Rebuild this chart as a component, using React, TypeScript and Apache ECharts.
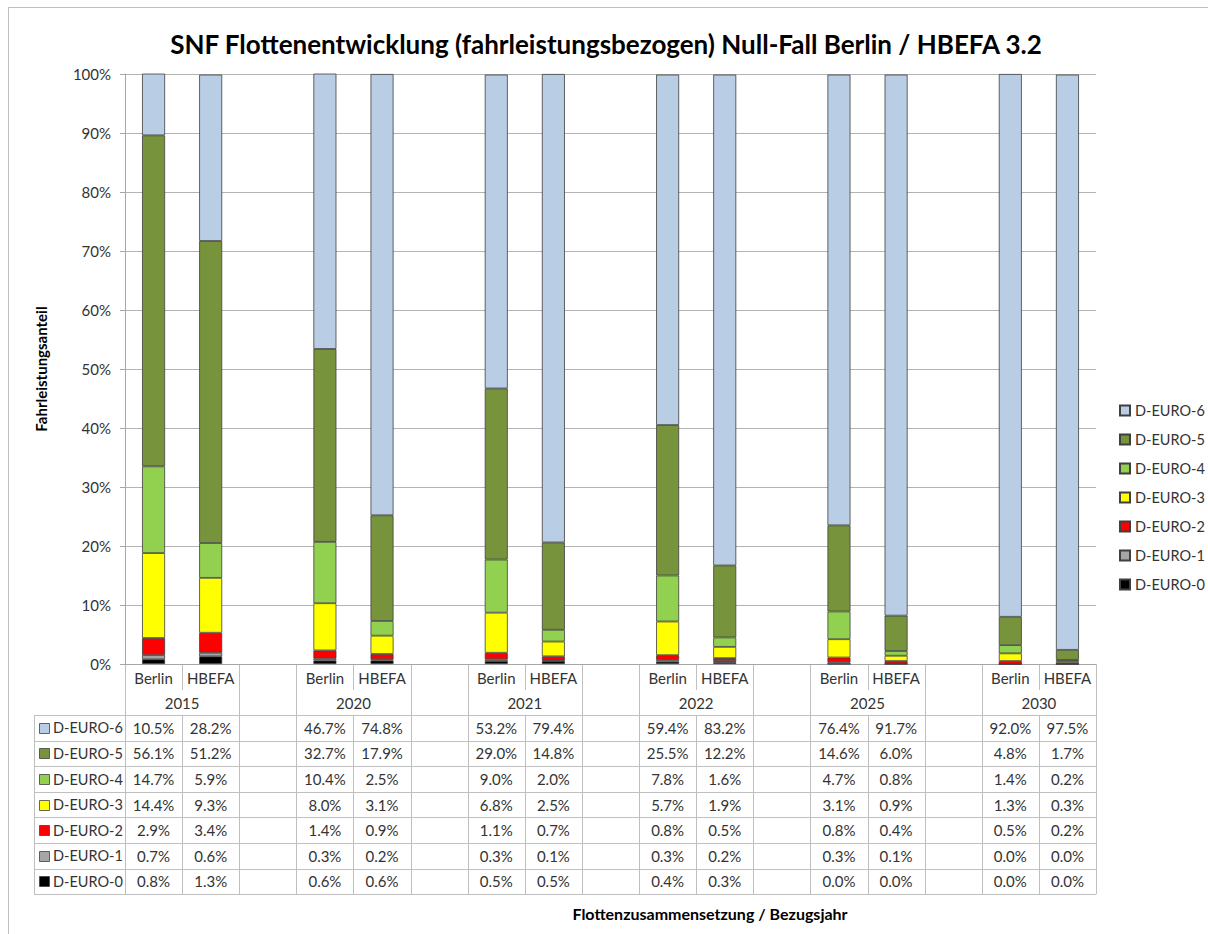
import React, { useEffect, useRef } from "react";
import * as echarts from "echarts";

const years = ["2015", "2020", "2021", "2022", "2025", "2030"];
const sources = ["Berlin", "HBEFA"];

// values per bar: 2015 Berlin, 2015 HBEFA, 2020 Berlin, 2020 HBEFA, ...
const euro0 = [0.8, 1.3, 0.6, 0.6, 0.5, 0.5, 0.4, 0.3, 0.0, 0.0, 0.0, 0.0];
const euro1 = [0.7, 0.6, 0.3, 0.2, 0.3, 0.1, 0.3, 0.2, 0.3, 0.1, 0.0, 0.0];
const euro2 = [2.9, 3.4, 1.4, 0.9, 1.1, 0.7, 0.8, 0.5, 0.8, 0.4, 0.5, 0.2];
const euro3 = [14.4, 9.3, 8.0, 3.1, 6.8, 2.5, 5.7, 1.9, 3.1, 0.9, 1.3, 0.3];
const euro4 = [14.7, 5.9, 10.4, 2.5, 9.0, 2.0, 7.8, 1.6, 4.7, 0.8, 1.4, 0.2];
const euro5 = [56.1, 51.2, 32.7, 17.9, 29.0, 14.8, 25.5, 12.2, 14.6, 6.0, 4.8, 1.7];
const euro6 = [10.5, 28.2, 46.7, 74.8, 53.2, 79.4, 59.4, 83.2, 76.4, 91.7, 92.0, 97.5];

const seriesNames = ["D-EURO-0", "D-EURO-1", "D-EURO-2", "D-EURO-3", "D-EURO-4", "D-EURO-5", "D-EURO-6"];
const seriesValues = [euro0, euro1, euro2, euro3, euro4, euro5, euro6];
const seriesColors = ["#000000", "#a6a6a6", "#ff0000", "#ffff00", "#92d050", "#77933c", "#b9cde5"];

const yTicks = [0, 10, 20, 30, 40, 50, 60, 70, 80, 90, 100];

const FONT = "Lato, 'Noto Sans', sans-serif";
const TXT = "#333333";
const LINE = "#bfbfbf";

// slots: each year group = 2 bars + 1 gap (no gap after last)
const nSlots = years.length * 3 - 1;
const categories: string[] = [];
for (let i = 0; i < nSlots; i++) {
  const g = Math.floor(i / 3);
  const r = i % 3;
  categories.push(r < 2 ? `${sources[r]} ${years[g]}` : `gap${g}`);
}
function toSlots(vals: number[]) {
  const out: (number | null)[] = [];
  for (let i = 0; i < nSlots; i++) {
    const g = Math.floor(i / 3);
    const r = i % 3;
    out.push(r < 2 ? vals[g * 2 + r] : null);
  }
  return out;
}

export default function App() {
  const ref = useRef<HTMLDivElement>(null);
  useEffect(() => {
    if (!ref.current) return;
    const chart = echarts.init(ref.current, undefined, { renderer: "svg" });

    const gridLeft = 125;
    const gridRight = 1096;
    const gridTop = 74;
    const gridBottom = 664;
    const slotW = (gridRight - gridLeft) / nSlots;
    const tableLeft = 34;
    const hdrMid = 690;
    const rowsTop = 715;
    const rowH = 25.6;
    const nRows = seriesNames.length;
    const rowsBottom = rowsTop + rowH * nRows;

    const graphics: any[] = [];
    const line = (x1: number, y1: number, x2: number, y2: number) =>
      graphics.push({
        type: "line",
        silent: true,
        shape: { x1, y1, x2, y2 },
        style: { stroke: LINE, lineWidth: 1 },
      });

    // horizontal table lines
    for (let k = 0; k <= nRows; k++) {
      const y = Math.round(rowsTop + k * rowH) + 0.5;
      line(tableLeft, y, gridRight, y);
    }
    line(tableLeft + 0.5, rowsTop, tableLeft + 0.5, rowsBottom);
    // vertical table lines
    for (let b = 0; b <= nSlots; b++) {
      const x = Math.round(gridLeft + b * slotW) + 0.5;
      if (b % 3 === 1) {
        line(x, gridBottom, x, hdrMid);
        line(x, rowsTop, x, rowsBottom);
      } else {
        line(x, gridBottom, x, rowsBottom);
      }
    }
    // years header
    years.forEach((yr, g) => {
      graphics.push({
        type: "text",
        x: gridLeft + (g * 3 + 1) * slotW,
        y: (hdrMid + rowsTop) / 2,
        style: { text: yr, fill: TXT, font: `15px ${FONT}`, align: "center", verticalAlign: "middle" },
      });
    });
    // rows: top row is D-EURO-6
    for (let k = 0; k < nRows; k++) {
      const si = nRows - 1 - k;
      const cy = rowsTop + k * rowH + rowH / 2;
      graphics.push({
        type: "rect",
        shape: { x: 39.5, y: Math.round(cy - 5) + 0.5, width: 10, height: 10 },
        style: { fill: seriesColors[si], stroke: "#404040", lineWidth: 0.8 },
      });
      graphics.push({
        type: "text",
        x: 53,
        y: cy,
        style: { text: seriesNames[si], fill: TXT, font: `14.5px ${FONT}`, align: "left", verticalAlign: "middle" },
      });
      const vals = seriesValues[si];
      vals.forEach((v, j) => {
        const g = Math.floor(j / 2);
        const r = j % 2;
        const slot = g * 3 + r;
        graphics.push({
          type: "text",
          x: gridLeft + (slot + 0.5) * slotW,
          y: cy,
          style: { text: v.toFixed(1) + "%", fill: TXT, font: `15px ${FONT}`, align: "center", verticalAlign: "middle" },
        });
      });
    }
    // x axis title
    graphics.push({
      type: "text",
      x: 710,
      y: 913,
      style: {
        text: "Flottenzusammensetzung / Bezugsjahr",
        fill: "#000",
        font: `bold 16px ${FONT}`,
        align: "center",
        verticalAlign: "middle",
      },
    });
    // chart frame
    line(8, 7.5, 1208, 7.5);
    line(8.5, 7, 8.5, 934);

    chart.setOption({
      animation: false,
      backgroundColor: "#ffffff",
      title: {
        text: "SNF Flottenentwicklung (fahrleistungsbezogen) Null-Fall Berlin / HBEFA 3.2",
        left: 601,
        textAlign: "center",
        top: 26,
        textStyle: { fontFamily: FONT, fontSize: 26, fontWeight: "bold", color: "#000" },
      },
      legend: {
        orient: "vertical",
        left: 1119,
        top: 403,
        padding: 0,
        itemWidth: 10,
        itemHeight: 10,
        itemGap: 14,
        icon: "rect",
        data: [...seriesNames].reverse(),
        textStyle: { fontFamily: FONT, fontSize: 14.5, color: TXT },
      },
      grid: { left: gridLeft, top: gridTop, width: gridRight - gridLeft, height: gridBottom - gridTop, containLabel: false },
      xAxis: {
        type: "category",
        data: categories,
        axisLine: { show: true, lineStyle: { color: "#a6a6a6" } },
        axisTick: { show: false },
        axisLabel: {
          interval: 0,
          margin: 6,
          fontFamily: FONT,
          fontSize: 15,
          color: TXT,
          formatter: (v: string) => (v.startsWith("gap") ? "" : v.split(" ")[0]),
        },
      },
      yAxis: {
        type: "value",
        min: yTicks[0],
        max: yTicks[yTicks.length - 1],
        interval: 10,
        name: "Fahrleistungsanteil",
        nameLocation: "middle",
        nameRotate: 90,
        nameGap: 77,
        nameTextStyle: { fontFamily: FONT, fontSize: 15, fontWeight: "bold", color: "#000" },
        axisLine: { show: true, lineStyle: { color: "#a6a6a6" } },
        axisTick: { show: true, length: 5, inside: false, lineStyle: { color: "#a6a6a6" } },
        axisLabel: { fontFamily: FONT, fontSize: 15, color: TXT, margin: 14, formatter: (v: number) => v + "%" },
        splitLine: { show: true, lineStyle: { color: "#b3b3b3" } },
      },
      series: seriesNames.map((name, i) => ({
        name,
        type: "bar",
        stack: "total",
        barWidth: 23,
        data: toSlots(seriesValues[i]),
        itemStyle: { color: seriesColors[i], borderColor: "#3f3f3f", borderWidth: 0.8 },
      })),
      graphic: graphics,
    });
    return () => chart.dispose();
  }, []);
  return <div ref={ref} style={{ position: "fixed", left: 0, top: 0, width: 1208, height: 934, background: "#fff" }} />;
}
